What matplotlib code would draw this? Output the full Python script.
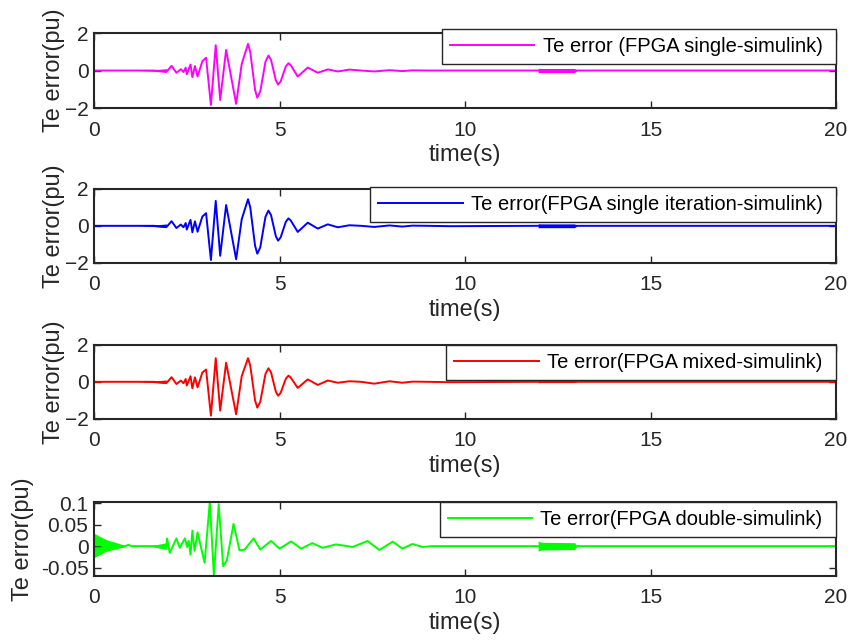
import matplotlib
matplotlib.use("Agg")
import matplotlib.pyplot as plt

plt.rcParams['font.family'] = ['Liberation Sans', 'DejaVu Sans']

t_osc = [0.0, 1.20, 1.60, 1.96, 2.09, 2.22, 2.34, 2.41, 2.47, 2.50, 2.60, 2.65,
         2.72, 2.79, 2.92, 3.02, 3.15, 3.28, 3.40, 3.56, 3.83, 3.98, 4.15, 4.21,
         4.34, 4.40, 4.48, 4.62, 4.70, 4.77, 4.90, 4.96, 5.03, 5.17, 5.24, 5.30,
         5.49, 5.76, 6.03, 6.30, 6.57, 6.88, 7.20, 7.55, 7.96, 8.31, 8.58, 9.00,
         9.60, 11.9, 13.1, 20.0]
err_single = [0.0, 0.0, 0.0, -0.05, 0.25, -0.12, 0.07, -0.08, 0.15, -0.20, 0.32, -0.35,
              0.24, -0.32, 0.50, 0.68, -1.84, 1.35, -1.57, 1.10, -1.78, 0.35, 1.42, 1.00,
              -1.03, -1.45, -1.12, 0.47, 0.80, 0.57, -0.52, -0.75, -0.58, 0.22, 0.39, 0.29,
              -0.32, 0.16, -0.12, 0.06, -0.05, 0.05, 0.0, -0.05, 0.02, -0.03, 0.01, 0.0,
              0.0, 0.0, 0.0, 0.0]
err_iter = [0.0, 0.0, 0.0, -0.05, 0.25, -0.12, 0.07, -0.08, 0.15, -0.20, 0.32, -0.35,
            0.24, -0.32, 0.50, 0.68, -1.84, 1.34, -1.61, 1.12, -1.80, 0.35, 1.43, 1.00,
            -1.07, -1.50, -1.16, 0.48, 0.82, 0.58, -0.56, -0.80, -0.62, 0.22, 0.40, 0.29,
            -0.33, 0.17, -0.15, 0.08, -0.08, 0.03, 0.0, -0.06, 0.02, -0.04, 0.01, 0.0,
            -0.02, 0.0, 0.0, 0.0]
err_mixed = [0.0, 0.0, 0.0, -0.05, 0.25, -0.12, 0.07, -0.08, 0.15, -0.20, 0.30, -0.35,
             0.24, -0.30, 0.50, 0.66, -1.82, 1.27, -1.55, 1.03, -1.75, 0.30, 1.27, 0.88,
             -1.00, -1.39, -1.08, 0.42, 0.73, 0.51, -0.53, -0.75, -0.59, 0.17, 0.33, 0.23,
             -0.33, 0.13, -0.17, 0.07, -0.05, 0.03, 0.0, -0.10, 0.03, -0.05, 0.01, 0.0,
             -0.02, 0.0, 0.0, 0.0]

# double precision trace (much smaller scale)
t_double = [0.0, 0.83, 0.93, 1.0, 1.95, 1.97, 2.04, 2.22, 2.31, 2.45, 2.51, 2.55,
            2.60, 2.65, 2.71, 2.79, 2.98, 3.12, 3.23, 3.36, 3.48, 3.58, 3.76, 3.92,
            4.06, 4.30, 4.48, 4.77, 5.00, 5.31, 5.58, 5.88, 6.16, 6.52, 6.97, 7.37,
            7.69, 8.05, 8.31, 8.58, 8.85, 9.12, 20.0]
err_double = [0.002, 0.0, 0.003, 0.0, 0.0, 0.018, -0.016, 0.018, -0.004, 0.018, -0.002, 0.012,
              -0.020, 0.036, -0.011, 0.032, -0.039, 0.103, -0.069, 0.098, -0.047, -0.033, 0.052, -0.010,
              -0.008, 0.018, -0.008, 0.012, -0.006, 0.011, -0.006, 0.007, -0.004, 0.004, -0.002, 0.012,
              -0.009, 0.0105, -0.006, 0.005, -0.002, 0.0, 0.0]

# high-frequency bursts, drawn as envelopes
fuzz_t = [1.20, 1.60, 1.95]
fuzz_amp = [0.0, 0.04, 0.10]
burst_t = [11.97, 12.05, 12.95, 13.02]
burst_single = [0.12, 0.11, 0.11, 0.0]
burst_iter = [0.11, 0.10, 0.10, 0.0]
burst_mixed = [0.05, 0.04, 0.04, 0.0]
start_t = [0.0, 0.3, 0.6, 0.83]
start_hi = [0.030, 0.016, 0.008, 0.002]
start_lo = [-0.027, -0.013, -0.006, -0.002]
fuzz_double = [0.0005, 0.002, 0.008]
burst_double = [0.012, 0.009, 0.008, 0.0]

traces = [
    (t_osc, err_single, fuzz_amp, burst_single, '#ff00ff', 'Te error (FPGA single-simulink)'),
    (t_osc, err_iter, fuzz_amp, burst_iter, '#0000ff', 'Te error(FPGA single iteration-simulink)'),
    (t_osc, err_mixed, fuzz_amp, burst_mixed, '#ff0000', 'Te error(FPGA mixed-simulink)'),
    (t_double, err_double, fuzz_double, burst_double, '#00ff00', 'Te error(FPGA double-simulink)'),
]
boxes = [
    [0.1105, 0.832, 0.872, 0.1166],
    [0.1105, 0.591, 0.872, 0.1156],
    [0.1105, 0.3484, 0.872, 0.1156],
    [0.1105, 0.1047, 0.872, 0.1146],
]
legend_top = [1.05, 1.02, 1.0, 1.0]
ylabel_x = [-0.039, -0.039, -0.039, -0.081]
dark = '#262626'

fig = plt.figure(figsize=(8.51, 6.43), dpi=100)
for i, (t, e, famp, bamp, color, label) in enumerate(traces):
    ax = fig.add_axes(boxes[i])
    ax.plot(t, e, color=color, lw=1.4, label=label + ' ', solid_joinstyle='round')
    ax.fill_between(fuzz_t, [-a for a in famp], famp, color=color, lw=0)
    ax.fill_between(burst_t, [-a for a in bamp], bamp, color=color, lw=0)
    if i == 3:
        ax.fill_between(start_t, start_lo, start_hi, color=color, lw=0)
        ax.set_ylim(-0.069, 0.103)
        ax.set_yticks([-0.05, 0, 0.05, 0.1])
        ax.set_yticklabels(['-0.05', '0', '0.05', '0.1'])
    else:
        ax.set_ylim(-2, 2)
        ax.set_yticks([-2, 0, 2])
    ax.set_xlim(0, 20)
    ax.set_xticks([0, 5, 10, 15, 20])
    ax.tick_params(direction='in', top=True, right=True, length=5.3, width=1,
                   labelsize=15, colors=dark, labelcolor=dark)
    ax.tick_params(axis='x', pad=9)
    ax.tick_params(axis='y', pad=4)
    for s in ax.spines.values():
        s.set_linewidth(1.5)
        s.set_color(dark)
    h_px = boxes[i][3] * 643
    ax.set_xlabel('time(s)', fontsize=17, color=dark)
    ax.xaxis.set_label_coords(0.5, -36 / h_px)
    ax.set_ylabel('Te error(pu)', fontsize=17, color=dark)
    ax.yaxis.set_label_coords(ylabel_x[i], 0.5)
    leg = ax.legend(loc='upper right', bbox_to_anchor=(1.0, legend_top[i]), borderaxespad=0,
                    fontsize=14.5, handlelength=4.2, handletextpad=0.4, borderpad=0.4,
                    fancybox=False, framealpha=1)
    leg.get_frame().set_edgecolor(dark)
    leg.get_frame().set_linewidth(1.0)

fig.savefig('out.png', dpi=100)
